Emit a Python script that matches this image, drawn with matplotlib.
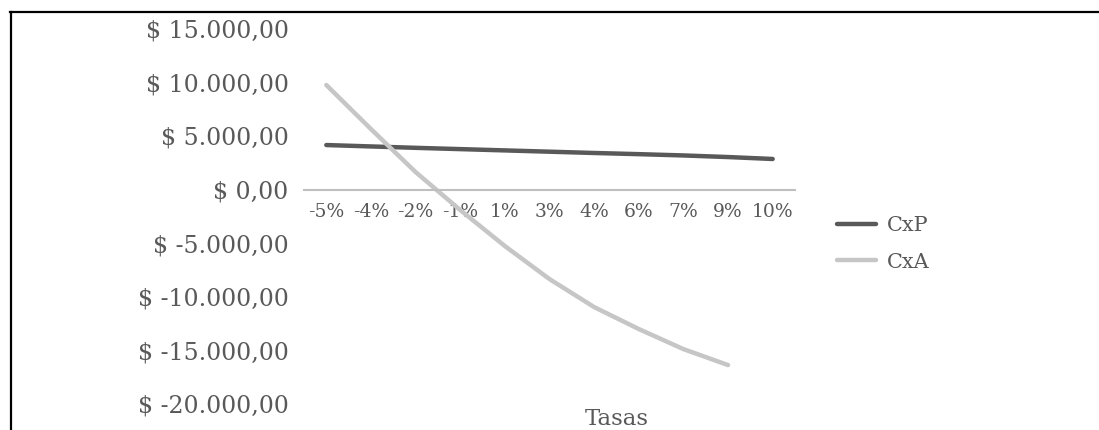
import matplotlib
matplotlib.use('Agg')
import matplotlib.pyplot as plt
from matplotlib.lines import Line2D
import numpy as np

plt.rcParams['font.family'] = ['DejaVu Serif']

# datos
tasas = ['-5%', '-4%', '-2%', '-1%', '1%', '3%', '4%', '6%', '7%', '9%', '10%']
cxp = [4150, 4020, 3890, 3770, 3650, 3530, 3410, 3300, 3180, 3030, 2850]
cxa = [9750, 5640, 1630, -1910, -5270, -8350, -10960, -13010, -14880, -16370, np.nan]
y_ticks = [-20000, -15000, -10000, -5000, 0, 5000, 10000, 15000]

TXT = '#595959'


def fmt_peso(v):
    s = f'{abs(v):,.2f}'.replace(',', 'X').replace('.', ',').replace('X', '.')
    return f'$ -{s}' if v < 0 else f'$ {s}'


W, H = 1099, 430
fig = plt.figure(figsize=(W / 100, H / 100), dpi=100)
ax = fig.add_axes([304 / W, 1 - 404 / H, (795 - 304) / W, (404 - 28.7) / H])

x = np.arange(len(tasas))
ax.plot(x, cxp, color='#595959', lw=3.2, solid_capstyle='round', label='CxP')
ax.plot(x, cxa, color='#c6c6c6', lw=3.2, solid_capstyle='round', label='CxA')

for s in ['top', 'right', 'left']:
    ax.spines[s].set_visible(False)
# eje x cruzando en 0 (antes de fijar etiquetas, porque reinicia los ticks)
ax.spines['bottom'].set_position(('data', 0))
ax.spines['bottom'].set_color('#bfbfbf')
ax.spines['bottom'].set_linewidth(1.5)

ax.set_xlim(-0.5, len(tasas) - 0.5)
ax.set_ylim(-20000, 15000)
ax.set_xticks(x)
ax.set_xticklabels(tasas)
ax.set_yticks(y_ticks)
ax.set_yticklabels([fmt_peso(v) for v in y_ticks])
ax.tick_params(axis='y', length=0, pad=11, labelsize=17, labelcolor=TXT)
ax.tick_params(axis='x', length=0, pad=10, labelsize=13.5, labelcolor=TXT)

fig.text(617 / W, 1 - 419 / H, 'Tasas', fontsize=16.5, color=TXT, ha='center', va='center')

ax.legend(loc='upper left', bbox_to_anchor=(837 / W, 1 - 216 / H),
          bbox_transform=fig.transFigure, frameon=False, fontsize=15,
          handlelength=1.87, handletextpad=0.5, labelspacing=0.85,
          borderpad=0, borderaxespad=0, labelcolor=TXT)

# marco (solo bordes superior e izquierdo visibles)
fig.add_artist(Line2D([10.5 / W, 10.5 / W], [1 - 12 / H, 0], transform=fig.transFigure,
                      color='black', lw=1.6))
fig.add_artist(Line2D([10 / W, 1], [1 - 11.5 / H, 1 - 11.5 / H], transform=fig.transFigure,
                      color='black', lw=1.6))

fig.savefig('out.png', dpi=100)
plt.close()
